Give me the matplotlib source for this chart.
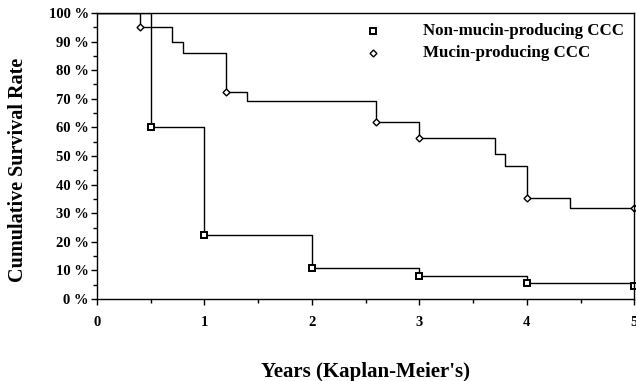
import matplotlib
matplotlib.use('Agg')
from matplotlib import pyplot as plt
import numpy as np

# Kaplan-Meier steps
mucin_t = [0, 0.4, 0.7, 0.8, 1.2, 1.4, 2.6, 3.0, 3.7, 3.8, 4.0, 4.4, 5.0]
mucin_s = [100, 95, 90, 86, 72.4, 69.3, 62, 56.4, 50.7, 46.6, 35.2, 32, 32]
mucin_mark_t = [0.4, 1.2, 2.6, 3.0, 4.0, 5.0]
mucin_mark_s = [95, 72.4, 62, 56.4, 35.2, 32]

non_t = [0, 0.5, 1.0, 2.0, 3.0, 4.0, 5.0]
non_s = [100, 60, 22.4, 10.7, 8.1, 5.6, 4.5]

yticks = list(range(0, 101, 10))
ytick_labels = ['%d %%' % v for v in yticks]
xticks = [0, 1, 2, 3, 4, 5]


def main():
    plt.rcParams['font.family'] = ['Liberation Serif', 'DejaVu Serif']
    plt.rcParams['font.weight'] = 'bold'
    fig = plt.figure(figsize=(6.36, 3.81), dpi=100)
    ax = fig.add_axes([0.1525, 0.215, 0.845, 0.751])

    ax.step(mucin_t, mucin_s, where='post', color='black', lw=1.0)
    ax.step(non_t, non_s, where='post', color='black', lw=1.0)
    ax.plot(mucin_mark_t, mucin_mark_s, linestyle='none', marker='D', ms=3.5,
            mfc='white', mec='black', mew=1.0, clip_on=False)
    ax.plot(non_t[1:], non_s[1:], linestyle='none', marker='s', ms=4.5,
            mfc='white', mec='black', mew=1.4, clip_on=False)

    ax.set_xlim(0, 5)
    ax.set_ylim(0, 100)
    ax.set_xticks(xticks)
    ax.set_xticks(np.arange(0, 5.01, 0.5), minor=True)
    ax.set_yticks(yticks)
    ax.set_yticks(np.arange(0, 101, 5), minor=True)
    ax.set_yticklabels(ytick_labels, fontsize=10.5, fontweight='bold')
    ax.set_xticklabels([str(v) for v in xticks], fontsize=10.5, fontweight='bold')
    ax.tick_params(axis='both', which='major', length=4, width=1, direction='out')
    ax.tick_params(axis='both', which='minor', length=3, width=1, direction='out')
    ax.tick_params(axis='x', pad=8)
    ax.tick_params(axis='y', pad=2)
    for sp in ax.spines.values():
        sp.set_linewidth(1.0)

    ax.set_ylabel('Cumulative Survival Rate', fontsize=14.5, fontweight='bold')
    ax.yaxis.set_label_coords(-0.128, 0.45)
    ax.set_xlabel("Years (Kaplan-Meier's)", fontsize=15, fontweight='bold', labelpad=24)

    # legend drawn by hand like the original
    ax.plot([2.57], [93.7], linestyle='none', marker='s', ms=4.5, mfc='white',
            mec='black', mew=1.4)
    ax.plot([2.57], [86.0], linestyle='none', marker='D', ms=3.5, mfc='white',
            mec='black', mew=1.0)
    ax.text(3.03, 93.7, 'Non-mucin-producing CCC', fontsize=12.2, fontweight='bold',
            va='center', ha='left')
    ax.text(3.03, 86.0, 'Mucin-producing CCC', fontsize=12.2, fontweight='bold',
            va='center', ha='left')

    plt.savefig('out.png', dpi=100)


if __name__ == '__main__':
    main()
